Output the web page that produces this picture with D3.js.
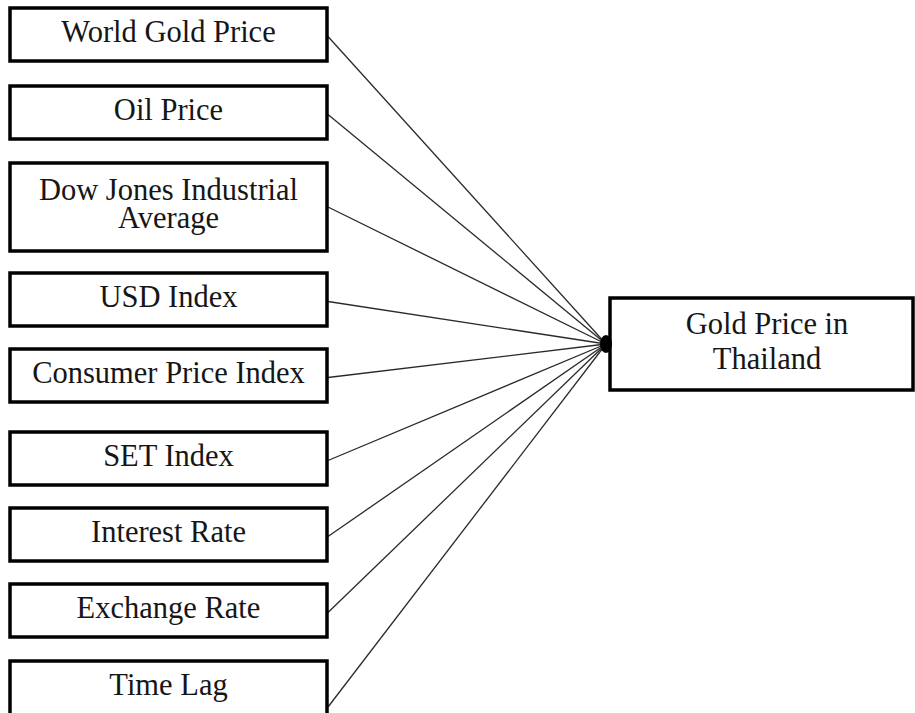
<!DOCTYPE html>
<html>
<head>
<meta charset="utf-8">
<script src="https://cdn.jsdelivr.net/npm/d3@7"></script>
<style>
  html, body { margin: 0; padding: 0; background: #fff; }
  svg { display: block; }
  text { font-family: "Liberation Serif", "Times New Roman", Times, serif; }
</style>
</head>
<body>
<script>
// Data
const factors = [
  ["World Gold Price"],
  ["Oil Price"],
  ["Dow Jones Industrial", "Average"],
  ["USD Index"],
  ["Consumer Price Index"],
  ["SET Index"],
  ["Interest Rate"],
  ["Exchange Rate"],
  ["Time Lag"]
];
const target = ["Gold Price in", "Thailand"];

// Layout
const W = 915, H = 713;
const svg = d3.select("body").append("svg").attr("width", W).attr("height", H);
svg.append("rect").attr("width", W).attr("height", H).attr("fill", "#fff");

const boxX0 = 10, boxX1 = 327;
const tops = [8, 86, 163, 273, 349, 432, 508, 584, 661];
const heights = factors.map((f, i) => i === factors.length - 1 ? 92 : (f.length > 1 ? 88 : 53));
const hub = { x: 606, y: 344 };
const tBox = { x0: 610, x1: 913, y0: 298, y1: 390 };

const rows = factors.map((lines, i) => ({ lines, top: tops[i], h: heights[i] }));

// connecting lines
svg.append("g").selectAll("line").data(rows).join("line")
  .attr("x1", boxX1 + 1).attr("y1", d => d.top + d.h / 2 + (d.h < 60 ? 2 : 0))
  .attr("x2", hub.x).attr("y2", hub.y)
  .attr("stroke", "#2a2a2a").attr("stroke-width", 1.3);

// left boxes
const g = svg.append("g").selectAll("g").data(rows).join("g");
g.append("rect")
  .attr("x", boxX0).attr("y", d => d.top)
  .attr("width", boxX1 - boxX0).attr("height", d => d.h)
  .attr("fill", "#fff").attr("stroke", "#000").attr("stroke-width", 3.5);
g.each(function(d) {
  const t = d3.select(this).append("text")
    .attr("x", (boxX0 + boxX1) / 2)
    .attr("text-anchor", "middle")
    .attr("font-size", 30.5).attr("fill", "#161616");
  d.lines.forEach((s, k) => {
    t.append("tspan").attr("x", (boxX0 + boxX1) / 2)
      .attr("y", d.top + (d.lines.length > 1 ? 37 + k * 28 : 34))
      .text(s);
  });
});

// target box
svg.append("rect")
  .attr("x", tBox.x0).attr("y", tBox.y0)
  .attr("width", tBox.x1 - tBox.x0).attr("height", tBox.y1 - tBox.y0)
  .attr("fill", "#fff").attr("stroke", "#000").attr("stroke-width", 3.5);
const tt = svg.append("text").attr("text-anchor", "middle")
  .attr("font-size", 30.5).attr("fill", "#161616");
target.forEach((s, k) => {
  tt.append("tspan").attr("x", 767).attr("y", 334 + k * 35).text(s);
});

// hub dot
svg.append("ellipse").attr("cx", hub.x).attr("cy", hub.y)
  .attr("rx", 6).attr("ry", 9).attr("fill", "#000");
</script>
</body>
</html>
